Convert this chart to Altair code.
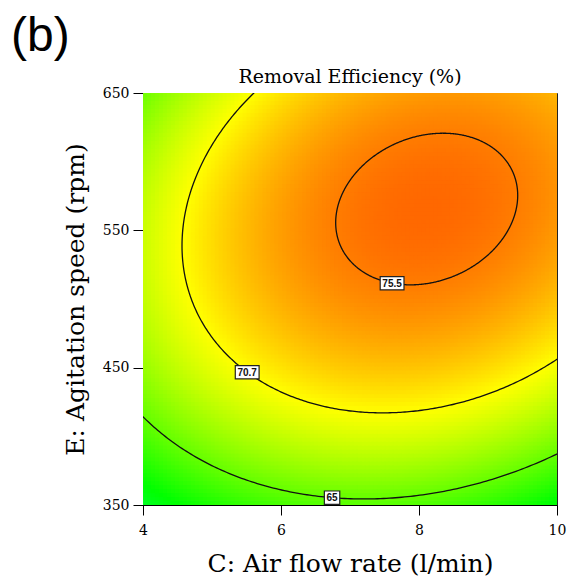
import numpy as np
import pandas as pd
import altair as alt

# Fitted quadratic response-surface model in coded units (C and E scaled to -1..+1)
b0 = 74.87
b_c = 2.28
b_e = 4.48
b_ce = 1.77
b_cc = -4.12
b_ee = -5.88

air_flow_range = [4.0, 10.0]      # C: Air flow rate (l/min)
agitation_range = [350.0, 650.0]  # E: Agitation speed (rpm)

x_ticks = [4, 6, 8, 10]
y_ticks = [350, 450, 550, 650]

contour_levels = [65.0, 70.7, 75.5]
contour_texts = ["65", "70.7", "75.5"]
label_air_flow = [6.74, 5.51, 7.61]   # where each contour label sits on its curve

x_mid = (air_flow_range[0] + air_flow_range[1]) / 2
x_half = (air_flow_range[1] - air_flow_range[0]) / 2
y_mid = (agitation_range[0] + agitation_range[1]) / 2
y_half = (agitation_range[1] - agitation_range[0]) / 2


def model(c, e):
    return b0 + b_c * c + b_e * e + b_ce * c * e + b_cc * c ** 2 + b_ee * e ** 2


# ---- colour field on a fine grid ----
n = 104
xe = np.linspace(air_flow_range[0], air_flow_range[1], n + 1)
ye = np.linspace(agitation_range[0], agitation_range[1], n + 1)
dx = xe[1] - xe[0]
dy = ye[1] - ye[0]
X0, Y0 = np.meshgrid(xe[:-1], ye[:-1])
XC = X0 + dx / 2
YC = Y0 + dy / 2
heat_df = pd.DataFrame({
    "x0": X0.ravel(),
    "x1": (X0 + dx * 1.5).ravel(),
    "y0": Y0.ravel(),
    "y1": (Y0 + dy * 1.5).ravel(),
    "re": model((XC - x_mid) / x_half, (YC - y_mid) / y_half).ravel(),
})

# ---- contour curves: the surface is a quadratic, so each level is an ellipse ----
H = np.array([[2 * b_cc, b_ce], [b_ce, 2 * b_ee]])
center = np.linalg.solve(H, -np.array([b_c, b_e]))
f_max = model(center[0], center[1])
M = -np.array([[b_cc, b_ce / 2], [b_ce / 2, b_ee]])
evals, evecs = np.linalg.eigh(M)
t = np.linspace(0, 2 * np.pi, 721)
rows = []
for lev in contour_levels:
    r = f_max - lev
    u = np.vstack([np.cos(t), np.sin(t)]) * np.sqrt(r / evals)[:, None]
    d = evecs @ u
    cx = center[0] + d[0]
    cy = center[1] + d[1]
    for i in range(len(t)):
        rows.append({"level": str(lev), "t": i,
                     "x": x_mid + x_half * cx[i], "y": y_mid + y_half * cy[i]})
line_df = pd.DataFrame(rows)

# ---- contour labels placed on the lower branch of each curve ----
lab_rows = []
for lev, txt, xv in zip(contour_levels, contour_texts, label_air_flow):
    c = (xv - x_mid) / x_half
    a = b_ee
    b = b_e + b_ce * c
    k = b0 + b_c * c + b_cc * c ** 2 - lev
    disc = np.sqrt(b * b - 4 * a * k)
    roots = [(-b + disc) / (2 * a), (-b - disc) / (2 * a)]
    e = min(roots)
    lab_rows.append({"x": xv, "y": y_mid + y_half * e, "text": txt,
                     "box": "wide" if len(txt) > 2 else "narrow"})
lab_df = pd.DataFrame(lab_rows)

W, Hh = 414, 412
xs = alt.Scale(domain=air_flow_range, nice=False, zero=False)
ys = alt.Scale(domain=agitation_range, nice=False, zero=False)

heat = alt.Chart(heat_df).mark_rect(clip=True, strokeWidth=0).encode(
    x=alt.X("x0:Q", scale=xs,
            axis=alt.Axis(values=x_ticks, format="d", title="C: Air flow rate (l/min)",
                          labelFlush=False, labelPadding=8, titlePadding=14)),
    x2="x1:Q",
    y=alt.Y("y0:Q", scale=ys,
            axis=alt.Axis(values=y_ticks, format="d", title="E: Agitation speed (rpm)",
                          labelPadding=4, titlePadding=14)),
    y2="y1:Q",
    color=alt.Color("re:Q", legend=None,
                    scale=alt.Scale(domain=[58.0, 61.3, 70.7, 80.1],
                                    range=["#00ff50", "#00ff00", "#ffff00", "#ff0000"],
                                    interpolate="rgb", clamp=True)),
)

lines = alt.Chart(line_df).mark_line(clip=True, color="#111111", strokeWidth=1.3).encode(
    x=alt.X("x:Q", scale=xs),
    y=alt.Y("y:Q", scale=ys),
    detail="level:N",
    order="t:Q",
)

boxes = alt.Chart(lab_df).mark_point(
    filled=True, fill="white", stroke="#222222", strokeWidth=1.2, opacity=1, size=196
).encode(
    x=alt.X("x:Q", scale=xs),
    y=alt.Y("y:Q", scale=ys),
    shape=alt.Shape("box:N", legend=None,
                    scale=alt.Scale(domain=["narrow", "wide"],
                                    range=["M-1.1,-0.95H1.1V0.95H-1.1Z",
                                           "M-1.7,-0.95H1.7V0.95H-1.7Z"])),
)

texts = alt.Chart(lab_df).mark_text(
    font="Liberation Sans", fontSize=10, fontWeight="bold", color="#111111",
    baseline="middle", align="center", dy=0.5
).encode(
    x=alt.X("x:Q", scale=xs),
    y=alt.Y("y:Q", scale=ys),
    text="text:N",
)

title = alt.Chart(pd.DataFrame({"label": ["Removal Efficiency (%)"]})).mark_text(
    font="DejaVu Serif", fontSize=19, color="black", align="center", baseline="alphabetic"
).encode(x=alt.value(W / 2), y=alt.value(-10), text="label:N")

panel = alt.Chart(pd.DataFrame({"label": ["(b)"]})).mark_text(
    font="Liberation Sans", fontSize=48, color="black", align="left", baseline="alphabetic"
).encode(x=alt.value(-132), y=alt.value(-42), text="label:N")

chart = alt.layer(heat, lines, boxes, texts, title, panel).properties(
    width=W, height=Hh,
    autosize=alt.AutoSizeParams(type="none"),
    padding={"left": 143, "top": 93, "right": 27, "bottom": 79},
).configure_view(
    stroke="#222222", strokeWidth=1
).configure_axis(
    grid=False, tickSize=10, tickColor="black", tickWidth=1,
    domainColor="black", domainWidth=1,
    labelFont="DejaVu Serif", labelFontSize=14, labelColor="black",
    titleFont="DejaVu Serif", titleFontSize=25, titleFontWeight="normal", titleColor="black",
)

chart.save("out.html", embed_options={"renderer": "svg", "actions": False})
